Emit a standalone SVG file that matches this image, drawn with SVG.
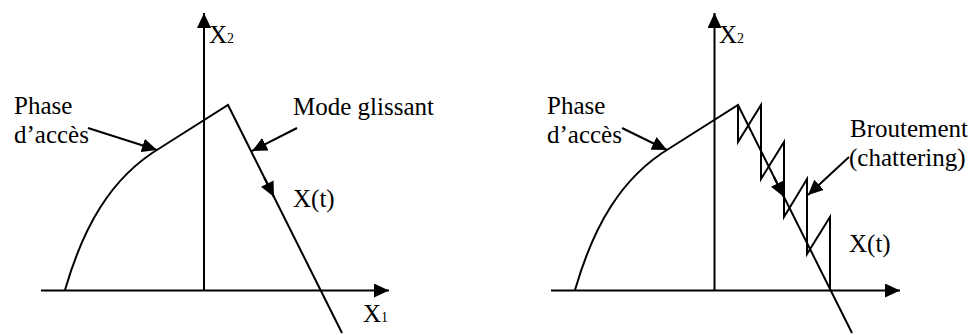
<svg xmlns="http://www.w3.org/2000/svg" width="974" height="335" viewBox="0 0 974 335">
<style>
.ln{fill:none;stroke:#000;stroke-width:2}
.ar{fill:none;stroke:#000;stroke-width:2;marker-end:url(#ah)}
text{font-family:'Liberation Serif','DejaVu Serif',serif;font-size:25px;fill:#000}
.sub{font-size:14px}
</style>
<defs>
<marker id="ah" viewBox="0 0 15 14" refX="15" refY="7" markerWidth="15" markerHeight="14" markerUnits="userSpaceOnUse" orient="auto">
<path d="M0,0 L15,7 L0,14 z" fill="#000"/>
</marker>
</defs>
<rect width="974" height="335" fill="#fff"/>

<g id="left-panel">
  <g id="left-axes">
    <path class="ar" d="M41,290.5 L389,290.5"/>
    <path class="ar" d="M204,290 L204,13"/>
    <text x="209" y="43">X<tspan class="sub">2</tspan></text>
    <text x="363" y="322">X<tspan class="sub">1</tspan></text>
  </g>
  <g id="left-trajectory">
    <path class="ln" d="M65,290 C83,228 110,178 160,148 L228,105 L342,333"/>
    <path class="ar" d="M264,177 L274,197"/>
    <text x="293" y="207">X(t)</text>
  </g>
  <g id="left-phase-label">
    <text x="14" y="114">Phase</text>
    <text x="14" y="143">d’accès</text>
  </g>
  <g id="left-mode-label">
    <text x="293" y="115">Mode glissant</text>
  </g>
  <g id="left-connectors">
    <path class="ar" d="M88,128 L157,150"/>
    <path class="ar" d="M297,128 L252,151"/>
  </g>
</g>

<g id="right-panel">
  <g id="right-axes">
    <path class="ar" d="M551,290.5 L900,290.5"/>
    <path class="ar" d="M714.5,290 L714.5,13"/>
    <text x="719" y="43">X<tspan class="sub">2</tspan></text>
  </g>
  <g id="right-trajectory">
    <path class="ln" d="M575,290 C593,228 620,178 670,148 L738,105 L852,333"/>
    <path class="ln" d="M738,105 L738,142 L761,105 L761,179 L784,142 L784,217 L807,179 L807,254 L830,217 L830,290"/>
    <path class="ar" d="M774,177 L784,197"/>
    <text x="849" y="252">X(t)</text>
  </g>
  <g id="right-phase-label">
    <text x="547" y="114">Phase</text>
    <text x="547" y="143">d’accès</text>
  </g>
  <g id="right-chatter-label">
    <text x="850" y="137">Broutement</text>
    <text x="849" y="166">(chattering)</text>
  </g>
  <g id="right-connectors">
    <path class="ar" d="M622,128 L667,150"/>
    <path class="ar" d="M849,157 L808,195"/>
  </g>
</g>
</svg>
